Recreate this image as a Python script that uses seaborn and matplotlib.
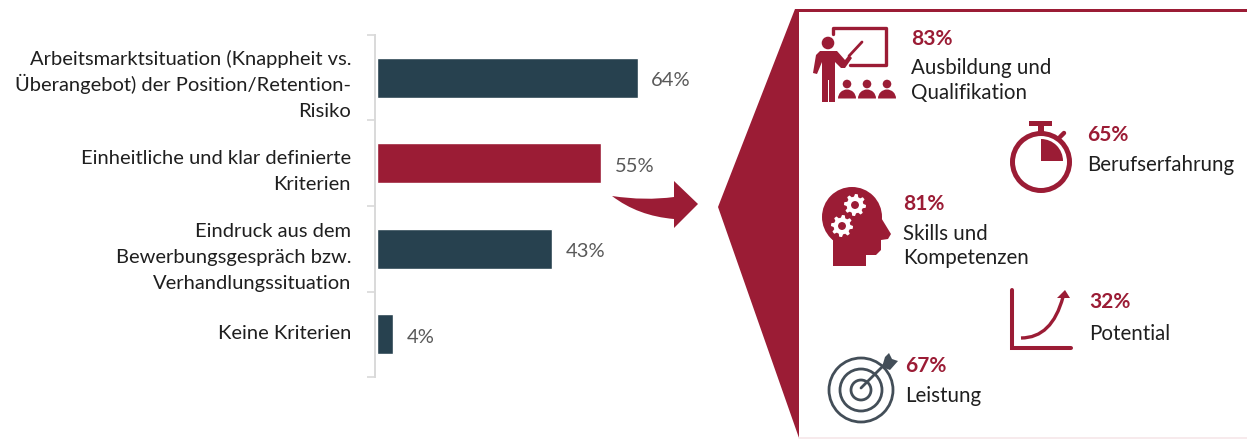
import numpy as np
import pandas as pd
import matplotlib
matplotlib.use("Agg")
import matplotlib.pyplot as plt
import seaborn as sns
from matplotlib.patches import Circle, Polygon, PathPatch, Rectangle, Wedge
from matplotlib.path import Path

categories = [
    "Arbeitsmarktsituation (Knappheit vs.\nÜberangebot) der Position/Retention-\nRisiko",
    "Einheitliche und klar definierte\nKriterien",
    "Eindruck aus dem\nBewerbungsgespräch bzw.\nVerhandlungssituation",
    "Keine Kriterien",
]
shares = [64, 55, 43, 4]
bar_colors = ["#27414F", "#9B1C35", "#27414F", "#27414F"]

criteria_pct = ["83%", "65%", "81%", "32%", "67%"]
criteria_names = ["Ausbildung und\nQualifikation", "Berufserfahrung", "Skills und\nKompetenzen", "Potential", "Leistung"]

# Layout in pixels: caption x, percentage baseline, first name baseline; and y of each category's first line
caption_layout = [(911, 45, 74.5), (1087, 141, 171), (903, 210, 239.5), (1089, 308, 339.5), (905, 372, 402.5)]
category_first_baseline = [65, 164, 237, 339]

RED = "#9B1C35"
SLATE = "#434E58"
W, H = 1247, 440

sns.set_theme(style="white")
plt.rcParams["font.family"] = ["Lato", "DejaVu Sans"]

fig = plt.figure(figsize=(W / 100, H / 100), dpi=100)

# Bar panel on the left
ax = fig.add_axes([377 / W, 1 - 377 / H, 408 / W, 342 / H])
df = pd.DataFrame({"kriterium": categories, "anteil": shares})
sns.barplot(data=df, y="kriterium", x="anteil", hue="kriterium", palette=bar_colors,
            dodge=False, legend=False, width=0.47, ax=ax, saturation=1)
ax.set_xlim(0, 100)
ax.set_ylim(3.5, -0.5)
ax.set_xlabel("")
ax.set_ylabel("")
ax.set_xticks([])
ax.set_yticks([])
ax.set_yticks(np.arange(-0.5, 4), minor=True)
ax.tick_params(axis="y", which="minor", left=True, length=5.5, width=1.2, color="#D9D9D9")
ax.patch.set_alpha(0)
for side in ("top", "right", "bottom"):
    ax.spines[side].set_visible(False)
ax.spines["left"].set_color("#D9D9D9")
ax.spines["left"].set_linewidth(1.4)
ax.spines["left"].set_position(("outward", 1.6))

for container in ax.containers:
    for lbl in ax.bar_label(container, fmt="%g%%", padding=9.5, fontsize=14.5, color="#595959",
                            family="Lato", fontweight="normal"):
        lbl.xyann = (lbl.xyann[0], lbl.xyann[1] - 2.2)

# Full-figure layer in pixel units for category text, the callout and its icons
ov = fig.add_axes([0, 0, 1, 1], zorder=-1)
ov.set_xlim(0, W)
ov.set_ylim(H, 0)
ov.axis("off")

for name, first in zip(categories, category_first_baseline):
    for k, line in enumerate(name.split("\n")):
        ov.text(351, first + k * 26, line, fontsize=14.5, color="#1F1F1F", ha="right", va="baseline")

ov.add_patch(Polygon([(795, 9), (1247, 9), (1247, 12), (799, 12), (799, 438), (718, 207)],
                     closed=True, fc=RED, ec="none"))
ov.plot([799, 1247], [438.5, 438.5], color="#F6E6E9", lw=1.2)

# Curved arrow between the highlighted bar and the callout
arrow = Path(
    [(612, 196), (645, 201), (674, 197), (674, 181), (698, 204), (674, 228), (674, 219),
     (638, 216), (612, 196), (612, 196)],
    [Path.MOVETO, Path.CURVE3, Path.CURVE3, Path.LINETO, Path.LINETO, Path.LINETO, Path.LINETO,
     Path.CURVE3, Path.CURVE3, Path.CLOSEPOLY])
ov.add_patch(PathPatch(arrow, fc=RED, ec="none"))


def gear(cx, cy, r):
    ang = np.linspace(0, 2 * np.pi, 48, endpoint=False)
    rad = np.where((np.arange(48) // 3) % 2 == 0, r, r * 0.76)
    ov.add_patch(Polygon(np.c_[cx + rad * np.cos(ang), cy + rad * np.sin(ang)], fc="white", ec="none"))
    ov.add_patch(Circle((cx, cy), r * 0.36, fc=RED, ec="none"))


# Teacher at a board with an audience
ov.plot([833, 833, 886, 886, 850], [34, 28, 28, 65, 65], color=RED, lw=2.4, solid_joinstyle="round")
ov.add_patch(Circle((828, 43), 6.3, fc=RED, ec="none"))
ov.add_patch(Polygon([(820, 51), (837, 51), (845, 60), (849, 55), (852, 58), (845, 68), (841, 68), (835, 62),
                      (835, 102), (829, 102), (829, 80), (828, 80), (828, 102), (822, 102), (822, 62),
                      (817, 74), (813, 73), (816, 55)], fc=RED, ec="none"))
ov.plot([849, 862], [56, 42], color=RED, lw=2.0, solid_capstyle="round")
for x0 in (847, 867, 887):
    ov.add_patch(Circle((x0, 84), 4.3, fc=RED, ec="none"))
    ov.add_patch(Wedge((x0, 98.5), 9, 180, 360, fc=RED, ec="none"))

# Stopwatch
ov.add_patch(Circle((1041, 162), 28.5, fc="none", ec=RED, lw=3.6))
ov.add_patch(Rectangle((1029, 121), 23, 5, fc=RED, ec="none"))
ov.add_patch(Rectangle((1038, 126), 6, 8, fc=RED, ec="none"))
ov.plot([1060, 1064], [137, 133], color=RED, lw=3.2)
ov.add_patch(Wedge((1041, 161), 22, 270, 360, fc=RED, ec="none"))

# Head with gears
ov.add_patch(Circle((852, 217), 30, fc=RED, ec="none"))
ov.add_patch(Polygon([(833, 266), (866, 266), (866, 255), (876, 255), (881, 250), (881, 240), (888, 239),
                      (891, 234), (880, 216), (845, 225), (830, 236), (833, 240)], fc=RED, ec="none"))
gear(855, 205, 11)
gear(842, 226, 11)

# Growth curve on axes
ov.plot([1012, 1012, 1071], [290, 348, 348], color=RED, lw=2.9, solid_joinstyle="miter")
curve = Path([(1021, 338), (1052, 338), (1063, 297)], [Path.MOVETO, Path.CURVE3, Path.CURVE3])
ov.add_patch(PathPatch(curve, fc="none", ec=RED, lw=2.4))
ov.add_patch(Polygon([(1065, 290), (1057, 298), (1070, 298)], fc=RED, ec="none"))

# Target with arrow
for r in (32, 21, 10):
    ov.add_patch(Circle((861, 390), r, fc="white", ec=SLATE, lw=2.0))
ov.plot([861, 886], [388, 363], color=SLATE, lw=2.0)
ov.add_patch(Polygon([(882, 367), (885, 357), (889, 353), (892, 359), (898, 361), (890, 370)],
                     fc=SLATE, ec="none"))

# Callout captions
for pct, name, (x, base_pct, base_name) in zip(criteria_pct, criteria_names, caption_layout):
    ov.text(x, base_pct, pct, fontsize=15, fontweight="bold", color=RED, ha="left", va="baseline")
    for k, line in enumerate(name.split("\n")):
        ov.text(x, base_name + k * 25, line, fontsize=14.8, color="#1F1F1F", ha="left", va="baseline")

fig.savefig("out.png", dpi=100)
